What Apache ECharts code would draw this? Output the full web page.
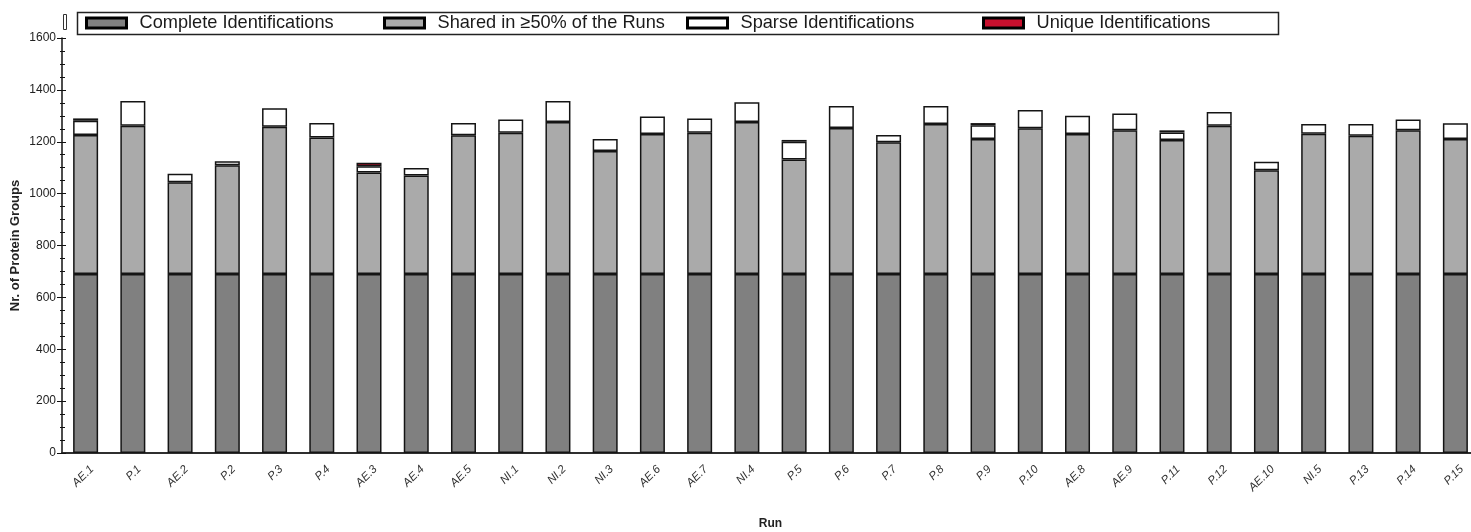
<!DOCTYPE html>
<html>
<head>
<meta charset="utf-8">
<script src="https://cdn.jsdelivr.net/npm/echarts@6/dist/echarts.min.js"></script>
<style>
  html, body { margin: 0; padding: 0; background: #fff; }
  #chart { width: 1471px; height: 532px; }
</style>
</head>
<body>
<div id="chart"></div>
<script>
// Runs along the x axis
const runs = ['AE.1','P.1','AE.2','P.2','P.3','P.4','AE.3','AE.4','AE.5','NI.1',
              'NI.2','NI.3','AE.6','AE.7','NI.4','P.5','P.6','P.7','P.8','P.9',
              'P.10','AE.8','AE.9','P.11','P.12','AE.10','NI.5','P.13','P.14','P.15'];

// Protein groups per identification class (stacked bottom to top)
const complete = [690,690,690,690,690,690,690,690,690,690,
                  690,690,690,690,690,690,690,690,690,690,
                  690,690,690,690,690,690,690,690,690,690];
const shared   = [536,572,354,419,568,526,391,380,535,545,
                  586,474,540,545,586,442,563,508,578,521,
                  562,540,554,517,572,400,541,533,554,521];
const sparse   = [55,95,33,16,71,56,25,29,47,51,
                  81,47,67,55,76,68,85,28,70,53,
                  70,70,65,29,53,33,37,45,42,60];
const unique   = [9,0,0,0,0,0,13,0,0,0,
                  0,0,0,0,0,7,0,0,0,8,
                  0,0,0,8,0,0,0,0,0,0];

const yTicks = [0, 200, 400, 600, 800, 1000, 1200, 1400, 1600];

const names = ['Complete Identifications', 'Shared in \u226550% of the Runs',
               'Sparse Identifications', 'Unique Identifications'];
const fills = ['#808080', '#aaaaaa', '#ffffff', '#c8102e'];
const legendLeft = [85, 383, 686, 982];

const chart = echarts.init(document.getElementById('chart'));

const edge = '#141414';
const nz = arr => arr.map(v => (v > 0 ? v : '-'));

const series = [complete, shared, sparse, nz(unique)].map((d, i) => ({
  name: names[i],
  type: 'bar',
  stack: 'total',
  barWidth: 25,
  data: d,
  itemStyle: { color: fills[i], borderColor: edge, borderWidth: 1.5 },
  emphasis: { disabled: true }
}));

const legends = names.map((n, i) => ({
  data: [n],
  left: legendLeft[i],
  top: 14,
  padding: 0,
  icon: 'rect',
  itemWidth: 40,
  itemHeight: 10,
  itemGap: 0,
  selectedMode: false,
  itemStyle: { borderColor: '#000', borderWidth: 3 },
  textStyle: { fontFamily: 'Liberation Sans, Arial', fontSize: 18.2, color: '#1a1a1a',
               padding: [0, 0, 0, 8] }
}));

const axisFont = { fontFamily: 'Liberation Sans, Arial', color: '#222' };

chart.setOption({
  animation: false,
  backgroundColor: '#ffffff',
  graphic: [
    { type: 'rect', shape: { x: 77.5, y: 12.5, width: 1201, height: 22 },
      style: { fill: '#fff', stroke: '#222', lineWidth: 1.5 }, z: -1 },
    { type: 'rect', shape: { x: 63.5, y: 14.5, width: 3, height: 15 },
      style: { fill: '#fff', stroke: '#333', lineWidth: 1 } }
  ],
  legend: legends,
  grid: { left: 62, right: -8, top: 38, bottom: 79, containLabel: false,
          outerBoundsMode: 'none' },
  xAxis: [
    {
      type: 'category',
      data: runs,
      position: 'bottom',
      name: 'Run',
      nameLocation: 'middle',
      nameGap: 65,
      nameMoveOverlap: false,
      nameTextStyle: Object.assign({ fontSize: 12, fontWeight: 'bold' }, axisFont),
      axisLine: { lineStyle: { color: '#222', width: 1.5 } },
      axisTick: { alignWithLabel: true, length: 6, lineStyle: { color: '#444' } },
      axisLabel: { rotate: 45, fontSize: 11.5, margin: 8, interval: 0,
                   verticalAlign: 'top', padding: [3, 0, 0, 0],
                   fontStyle: 'italic', color: '#333', fontFamily: axisFont.fontFamily }
    },
    {
      type: 'category',
      data: runs,
      position: 'top',
      axisLine: { lineStyle: { color: '#222', width: 1.5 } },
      axisTick: { alignWithLabel: true, inside: true, length: 5, lineStyle: { color: '#555' } },
      axisLabel: { show: false }
    }
  ],
  yAxis: [
    {
      type: 'value',
      min: 0,
      max: 1600,
      interval: 200,
      name: 'Nr. of Protein Groups',
      nameLocation: 'middle',
      nameGap: 40,
      nameMoveOverlap: false,
      nameTextStyle: Object.assign({ fontSize: 13, fontWeight: 'bold' }, axisFont),
      axisLine: { show: true, lineStyle: { color: '#111', width: 1.5 } },
      axisTick: { show: true, length: 5, lineStyle: { color: '#111' } },
      minorTick: { show: true, splitNumber: 4, length: 2, lineStyle: { color: '#111' } },
      splitLine: { show: false },
      axisLabel: Object.assign({ fontSize: 12, margin: 6,
        formatter: v => (yTicks.includes(v) ? String(v) : '') }, axisFont)
    },
    {
      type: 'value',
      min: 0,
      max: 1600,
      interval: 200,
      position: 'left',
      axisLine: { show: false },
      axisTick: { show: true, inside: true, length: 4, lineStyle: { color: '#111' } },
      minorTick: { show: true, splitNumber: 4, length: 3, lineStyle: { color: '#111' } },
      splitLine: { show: false },
      axisLabel: { show: false }
    }
  ],
  series: series
});
</script>
</body>
</html>
